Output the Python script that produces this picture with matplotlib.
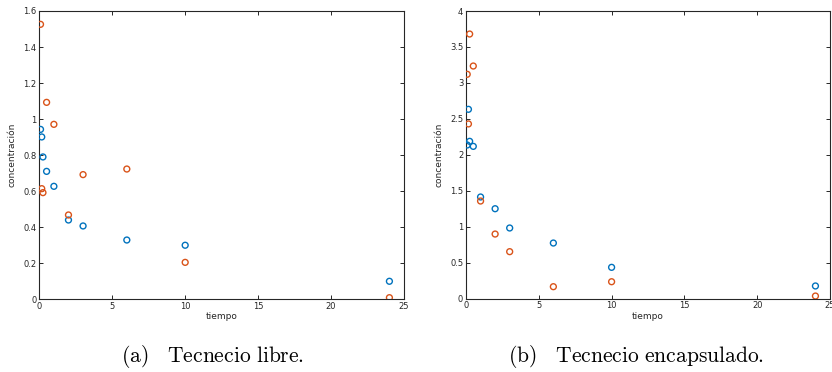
import matplotlib.pyplot as plt

# tiempo (h)
t = [0.083, 0.167, 0.25, 0.5, 1, 2, 3, 6, 10, 24]

# (a) Tecnecio libre
libre_azul = [0.943, 0.901, 0.790, 0.710, 0.627, 0.440, 0.407, 0.329, 0.300, 0.100]
libre_rojo = [1.526, 0.614, 0.592, 1.093, 0.971, 0.468, 0.692, 0.723, 0.205, 0.009]

# (b) Tecnecio encapsulado
encap_azul = [2.137, 2.633, 2.188, 2.118, 1.414, 1.251, 0.983, 0.774, 0.436, 0.177]
encap_rojo = [3.120, 2.430, 3.680, 3.235, 1.358, 0.899, 0.654, 0.167, 0.236, 0.037]

yticks_a = [0, 0.2, 0.4, 0.6, 0.8, 1, 1.2, 1.4, 1.6]
ytick_labels_a = ["0", "0.2", "0.4", "0.6", "0.8", "1", "1.2", "1.4", "1.6"]
yticks_b = [0, 0.5, 1, 1.5, 2, 2.5, 3, 3.5, 4]
ytick_labels_b = ["0", "0.5", "1", "1.5", "2", "2.5", "3", "3.5", "4"]
xticks = [0, 5, 10, 15, 20, 25]

azul = "#0072BD"
rojo = "#D95319"
gris = "#262626"

plt.rcParams['mathtext.fontset'] = 'cm'

W, H = 832, 372
fig = plt.figure(figsize=(W / 100, H / 100), dpi=100)


def make_ax(x0, x1, y0, y1):
    return fig.add_axes([x0 / W, 1 - y1 / H, (x1 - x0) / W, (y1 - y0) / H])


def style(ax, yt, ytl, ymax):
    ax.set_xlim(0, 25)
    ax.set_ylim(0, ymax)
    ax.set_xticks(xticks)
    ax.set_xticklabels([str(v) for v in xticks])
    ax.set_yticks(yt)
    ax.set_yticklabels(ytl)
    ax.tick_params(direction='in', top=True, right=True, length=3, width=0.7,
                   labelsize=6, colors=gris, pad=2)
    for s in ax.spines.values():
        s.set_color(gris)
        s.set_linewidth(0.8)
    ax.set_xlabel("tiempo", fontsize=6.5, color=gris, labelpad=1)
    ax.set_ylabel("concentración", fontsize=6.5, color=gris, labelpad=5)


ax1 = make_ax(39.3, 404, 11, 299.3)
ax1.scatter(t, libre_azul, s=18, facecolors='none', edgecolors=azul, linewidths=1.0, zorder=3)
ax1.scatter(t, libre_rojo, s=18, facecolors='none', edgecolors=rojo, linewidths=1.0, zorder=3)
style(ax1, yticks_a, ytick_labels_a, 1.6)

ax2 = make_ax(466, 830, 11, 298.7)
ax2.scatter(t, encap_azul, s=18, facecolors='none', edgecolors=azul, linewidths=1.0, zorder=3)
ax2.scatter(t, encap_rojo, s=18, facecolors='none', edgecolors=rojo, linewidths=1.0, zorder=3)
style(ax2, yticks_b, ytick_labels_b, 4)

fig.text(213 / W, 1 - 356 / H, r"$\mathrm{(a)\ \ \ Tecnecio\ libre.}$",
         ha='center', va='center', fontsize=15.5)
fig.text(636 / W, 1 - 356 / H, r"$\mathrm{(b)\ \ \ Tecnecio\ encapsulado.}$",
         ha='center', va='center', fontsize=15.5)

fig.savefig("out.png", dpi=100)
